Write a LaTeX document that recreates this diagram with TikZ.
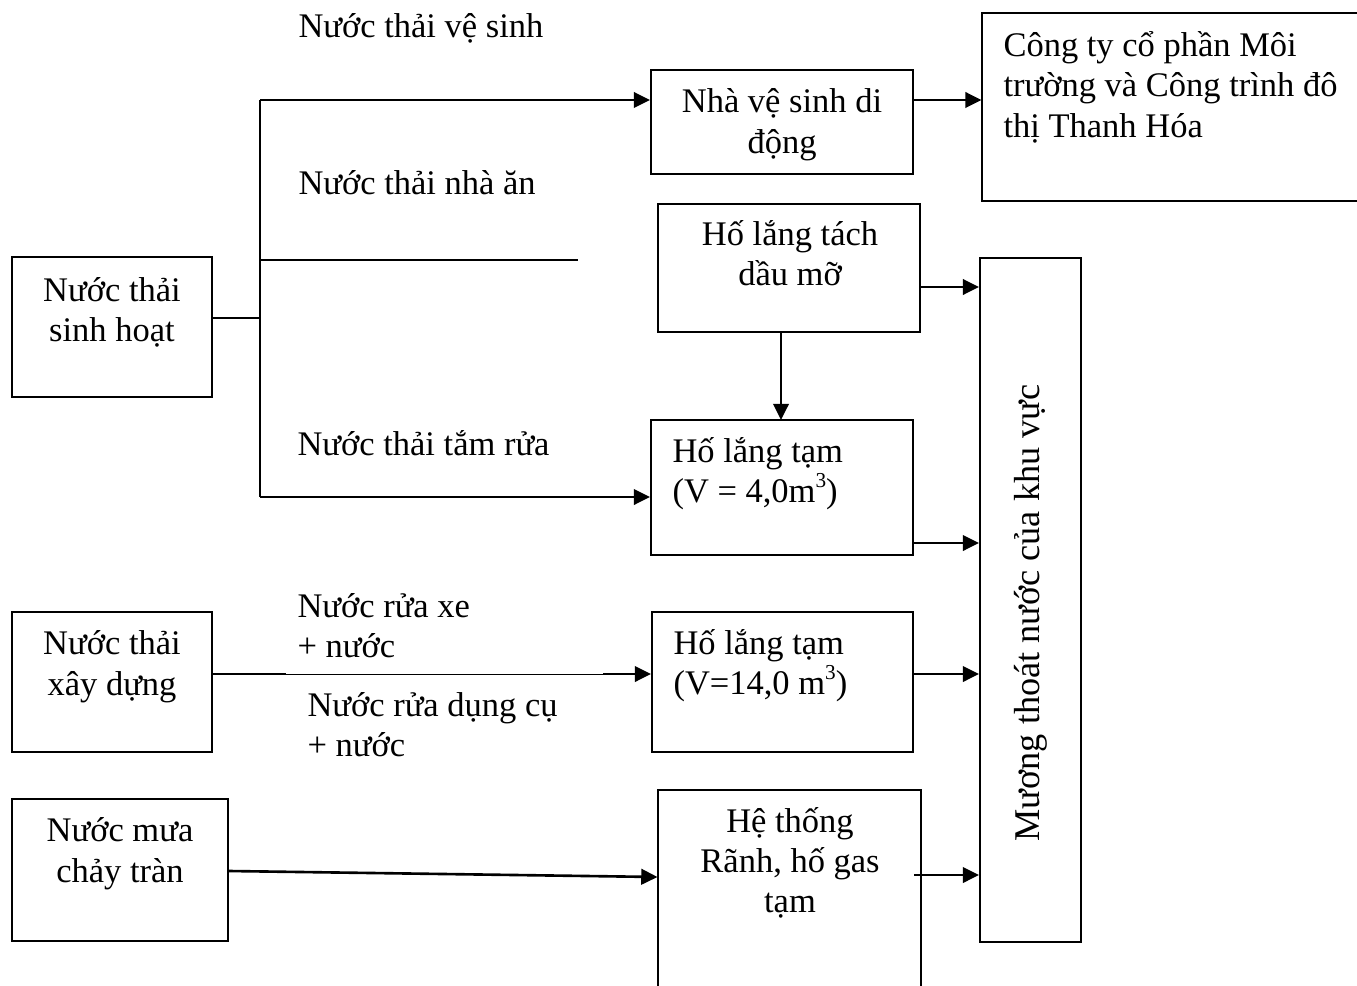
\documentclass[tikz,border=0pt]{standalone}
\usepackage{fontspec}
\setmainfont{Liberation Serif}
\usetikzlibrary{arrows.meta,fit}
\newcommand{\cubed}{\raisebox{0.42em}{\fontsize{8.5pt}{8.5pt}\selectfont 3}}
\begin{document}
\begin{tikzpicture}[x=0.4pt,y=-0.4pt,
  box/.style={draw, line width=0.8pt, inner sep=0pt},
  openbox/.style={inner sep=0pt},
  txt/.style={inner sep=0pt, anchor=base west, font=\fontsize{13.8pt}{16.2pt}\selectfont},
  ctxt/.style={inner sep=0pt, anchor=base, font=\fontsize{13.8pt}{16.2pt}\selectfont},
  conn/.style={line width=0.8pt},
  arr/.style={line width=1.05pt, -{Triangle[length=6.5pt,width=6.2pt]}},
  thin/.style={line width=0.4pt}]
\useasboundingbox (0,0) rectangle (1357,985);

% boxes
\node[box, fit={(12,257) (212,397)}] (a) {};
\node[box, fit={(651,70) (913,174)}] (vs) {};
\node[openbox, fit={(982,14) (1357,201)}] (cty) {};
\draw[line width=0.8pt] (cty.north east) -- (cty.north west) -- (cty.south west) -- (cty.south east);
\node[box, fit={(658,204) (920,332)}] (dm) {};
\node[box, fit={(651,420) (913,555)}] (hlt1) {};
\node[box, fit={(980,258) (1081,942)}] (mg) {};
\node[box, fit={(12,612) (212,752)}] (xd) {};
\node[box, fit={(652,612) (913,752)}] (hlt2) {};
\node[box, fit={(12,799) (228,941)}] (mua) {};
\node[openbox, fit={(658,790) (920,990)}] (ht) {};
\draw[line width=0.8pt] (ht.south west) -- (ht.north west) -- (ht.north east) -- (ht.south east);

% texts in boxes
\node[ctxt] (ta1) at (112,301) {Nước thải};
\node[ctxt] (ta2) at (112,341) {sinh hoạt};
\node[ctxt] (tvs1) at (782,113) {Nhà vệ sinh di};
\node[ctxt] (tvs2) at (782,154) {động};
\node[txt] (tc1) at (1003,57) {Công ty cổ phần Môi};
\node[txt] (tc2) at (1003,97) {trường và Công trình đô};
\node[txt] (tc3) at (1003,138) {thị Thanh Hóa};
\node[ctxt] (tdm1) at (790,245) {Hố lắng tách};
\node[ctxt] (tdm2) at (790,286) {dầu mỡ};
\node[txt] (th11) at (672,462) {Hố lắng tạm};
\node[txt] (th12) at (672,502) {(V = 4,0m\cubed)};
\node[txt] (th21) at (673,654) {Hố lắng tạm};
\node[txt] (th22) at (673,694) {(V=14,0 m\cubed)};
\node[ctxt] (txd1) at (112,654) {Nước thải};
\node[ctxt] (txd2) at (112,695) {xây dựng};
\node[ctxt] (tm1) at (120,841) {Nước mưa};
\node[ctxt] (tm2) at (120,882) {chảy tràn};
\node[ctxt] (tht1) at (790,832) {Hệ thống};
\node[ctxt] (tht2) at (790,872) {Rãnh, hố gas};
\node[ctxt] (tht3) at (790,912) {tạm};
\node[ctxt, rotate=90, font=\fontsize{14.5pt}{17pt}\selectfont] (tmg) at (1039,613) {Mương thoát nước của khu vực};

% labels
\node[txt] (l1) at (298,38) {Nước thải vệ sinh};
\node[txt] (l2) at (298,195) {Nước thải nhà ăn};
\node[txt] (l3) at (297,455) {Nước thải tắm rửa};
\node[txt] (l4) at (297,617) {Nước rửa xe};
\node[txt] (l5) at (297,657) {+ nước};
\node[txt] (l6) at (307,716) {Nước rửa dụng cụ};
\node[txt] (l7) at (307,756) {+ nước};

% connectors
\coordinate (j) at (260,318);
\coordinate (jt) at (260,100);
\coordinate (jm) at (260,260);
\coordinate (jb) at (260,497);
\coordinate (na) at (578,260);
\draw[conn] (a.east |- j) -- (j);
\draw[conn] (jt) -- (jb);
\draw[arr] (jt) -- (vs.west |- jt);
\draw[conn] (jm) -- (na);
\draw[arr] (jb) -- (hlt1.west |- jb);
\draw[arr] (vs.east |- jt) -- (cty.west |- jt);
\draw[arr] (dm.east |- 0,287) -- (mg.west |- 0,287);
\draw[arr] (781,332) -- (781,420);
\draw[arr] (hlt1.east |- 0,543) -- (mg.west |- 0,543);
\coordinate (x1) at (286,674);
\coordinate (x2) at (603,674);
\draw[arr, -] (xd.east |- x1) -- (x1);
\draw[thin] (x1) -- (x2);
\draw[arr] (x2) -- (hlt2.west |- x2);
\draw[arr] (hlt2.east |- 0,674) -- (mg.west |- 0,674);
\draw[arr] (mua.east |- 0,871) -- (ht.west |- 0,877);
\draw[arr] (914,875) -- (mg.west |- 0,875);
\end{tikzpicture}
\end{document}
